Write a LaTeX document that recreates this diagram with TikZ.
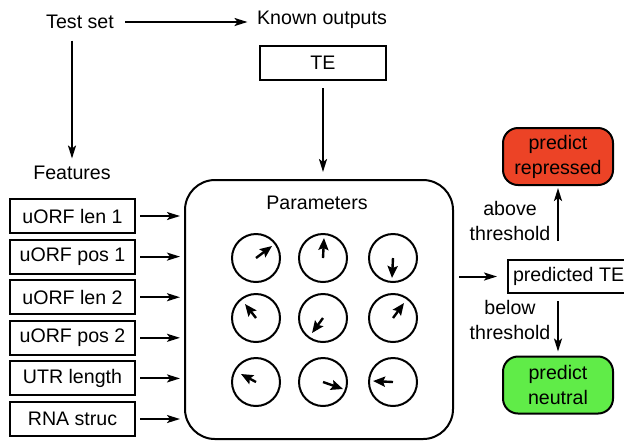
\documentclass[tikz,border=0pt]{standalone}
\usepackage{fontspec}
\setmainfont{Liberation Sans}
\usetikzlibrary{arrows.meta}

\definecolor{repred}{RGB}{236,67,38}
\definecolor{neutgreen}{RGB}{96,236,72}

\begin{document}
\begin{tikzpicture}[x=0.5pt,y=-0.5pt,line width=1pt,
  every node/.style={font=\fontsize{9.8}{12.5}\selectfont},
  feat/.style={draw,minimum width=62.5pt,minimum height=17pt,inner sep=0pt},
  outcome/.style={draw,rounded corners=7.5pt,minimum width=55pt,minimum height=28.5pt,align=center,inner sep=0pt},
  dial/.style={draw,circle,minimum size=24pt,inner sep=0pt},
  link/.style={-{Stealth[length=6.5pt,width=4pt,inset=1.5pt]}},
  needle/.style={line width=1.2pt,-{Stealth[length=6pt,width=5pt,inset=1pt]}}]

\useasboundingbox (0,0) rectangle (624,441);

\node (testset) at (80,22) {Test set};
\node (known) at (322,20) {Known outputs};
\node[feat,minimum width=63pt] (te) at (323,63) {TE};
\node (features) at (72,173) {Features};

\foreach \lab [count=\i] in {uORF len 1,uORF pos 1,uORF len 2,uORF pos 2,UTR length,RNA struc}
  \node[feat] (f\i) at (72.5,175.4+40.6*\i) {\lab};

\node[draw,rounded corners=15pt,minimum width=134pt,minimum height=129.5pt] (params) at (319,309.5) {};
\node (partitle) at (317,203) {Parameters};

% dials: centre, then needle offset
\foreach \cx/\cy/\dx/\dy [count=\k] in {256/258/16/-12, 323/258/1/-20, 393/258/-1/20,
    256/318/-11/-14, 323/318/-11/15, 393/318/11/-15,
    256/382/-15/-8, 323/382/20/7, 393/382/-20/-1}
  {
  \node[dial] (d\k) at (\cx,\cy) {};
  \draw[needle] (d\k.center) -- ++(\dx,\dy);
  }

\node[draw,anchor=west,inner xsep=2.5pt,inner ysep=0pt,minimum height=16.5pt] (predte) at (507,276.5) {predicted TE};
\node[outcome,fill=repred] (rep) at (558,156.5) {predict\\repressed};
\node[outcome,fill=neutgreen] (neu) at (558,385) {predict\\neutral};
\node[align=center] (above) at (510,221) {above\\threshold};
\node[align=center] (below) at (510,320) {below\\threshold};

\draw[link,shorten <=2pt,shorten >=1pt] (testset.east) -- (testset.east -| known.west);
\draw[link,shorten <=2pt] (features |- testset.south) -- (features.north);
\draw[link,shorten <=3.5pt,shorten >=3.5pt] (te.south) -- (te.south |- params.north);
\foreach \i in {1,...,6}
  \draw[link,shorten <=2pt,shorten >=2pt] (f\i.east) -- (f\i.east -| params.west);
\draw[link,shorten <=2.5pt,shorten >=5pt] (params.east |- predte.west) -- (predte.west);
\draw[link,shorten <=9pt,shorten >=1pt] (rep.south |- predte.north) -- (rep.south);
\draw[link,shorten <=3.5pt,shorten >=2pt] (neu.north |- predte.south) -- (neu.north);
\end{tikzpicture}
\end{document}
